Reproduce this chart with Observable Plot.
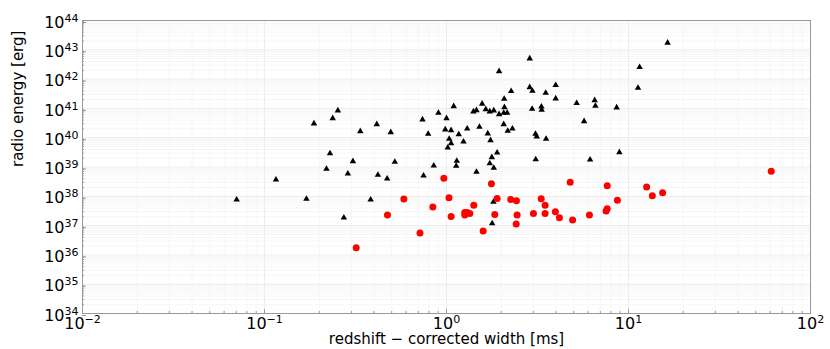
<!DOCTYPE html>
<html><head><meta charset="utf-8">
<script src="https://cdn.jsdelivr.net/npm/d3@7"></script>
<script src="https://cdn.jsdelivr.net/npm/@observablehq/plot@0.6"></script>
<style>html,body{margin:0;padding:0;background:#fff;} #chart svg{display:block;}</style>
</head><body><div id="chart"></div>
<script>
// black triangles
const triWidth = [0.0703,0.1156,0.170,0.187,0.219,0.229,0.237,0.253,0.273,0.287,0.306,0.336,0.383,0.414,0.420,0.472,0.494,0.520,
  0.738,0.793,0.748,0.851,0.903,1.00,0.984,1.06,1.035,1.06,1.016,1.096,1.168,1.240,1.139,1.13,1.299,1.406,1.461,1.517,1.461,1.570,
  1.644,1.686,1.745,1.729,1.819,1.774,1.729,1.819,1.898,1.811,1.782,1.946,1.946,2.074,2.081,2.063,2.154,2.063,2.170,2.302,2.266,
  2.866,2.866,2.966,2.954,3.082,3.131,3.092,3.322,3.334,3.508,3.526,3.98,3.98,5.19,5.70,6.15,6.52,6.58,8.61,8.91,11.28,11.51,16.40];
const triEnergy = [7.66e37,3.70e38,8.09e37,3.03e40,8.57e38,2.92e39,4.59e40,8.41e40,1.86e37,5.93e38,1.56e39,1.65e40,7.66e37,2.86e40,5.35e38,4.00e38,1.53e40,1.49e39,
  4.15e40,1.35e40,5.07e38,1.11e39,7.03e40,4.59e40,1.89e40,1.79e40,9.08e39,6.43e39,4.58e39,1.18e41,1.30e40,7.35e39,1.61e39,1.09e39,2.04e40,7.78e40,8.61e40,2.33e40,6.78e38,1.43e41,
  9.33e40,1.38e40,8.13e39,7.78e40,8.41e40,2.14e39,1.33e39,9.29e38,3.09e39,6.40e37,1.19e37,1.85e42,6.29e40,2.11e41,1.09e41,7.03e40,7.03e40,2.86e40,1.71e40,2.04e40,3.85e41,
  5.03e42,5.26e41,3.96e41,9.62e40,1.35e40,1.09e40,1.82e39,1.15e41,8.89e40,3.39e41,9.08e39,6.17e41,2.16e41,1.50e41,3.63e40,1.78e39,1.89e41,1.22e41,1.07e41,3.17e39,5.02e41,2.54e42,1.73e43];
// red circles
const circWidth = [0.319,0.474,0.583,0.715,0.841,0.967,1.032,1.06,1.260,1.260,1.299,1.343,1.412,1.590,1.766,1.898,1.842,2.254,2.423,2.444,2.415,
  3.004,3.314,3.482,3.482,3.966,4.173,4.783,4.930,6.10,7.53,7.64,7.64,8.69,12.58,13.52,15.40,60.85];
const circEnergy = [1.76e36,2.30e37,8.09e37,5.58e36,4.32e37,4.16e38,8.97e37,2.06e37,2.82e37,2.30e37,2.82e37,2.61e37,4.98e37,6.59e36,2.70e38,8.49e37,2.37e37,7.85e37,7.08e37,2.30e37,1.13e37,
  2.61e37,8.17e37,4.98e37,2.61e37,2.98e37,1.86e37,2.99e38,1.55e37,2.30e37,3.18e37,3.78e37,2.31e38,7.26e37,2.08e38,1.05e38,1.33e38,7.10e38];

const xTicks = [1e-2,1e-1,1,1e1,1e2];
const xTickLabels = ["10^\u22122","10^\u22121","10^0","10^1","10^2"];
const yTicks = [1e34,1e35,1e36,1e37,1e38,1e39,1e40,1e41,1e42,1e43,1e44];
const yTickLabels = ["10^34","10^35","10^36","10^37","10^38","10^39","10^40","10^41","10^42","10^43","10^44"];
const xLabel = "redshift \u2212 corrected width [ms]";
const yLabel = "radio energy [erg]";

const minorOf = majors => majors.slice(0, -1).flatMap(m => [2,3,4,5,6,7,8,9].map(k => k * m));
const xMinor = minorOf(xTicks), yMinor = minorOf(yTicks);

const tri = triWidth.map((w, i) => ({w, e: triEnergy[i]}));
const circ = circWidth.map((w, i) => ({w, e: circEnergy[i]}));

const fmt = (ticks, labels) => v => {
  const i = ticks.findIndex(t => Math.abs(Math.log10(t) - Math.log10(v)) < 1e-6);
  return i >= 0 ? labels[i] : "";
};

const chart = Plot.plot({
  width: 830, height: 349,
  marginLeft: 82, marginRight: 20, marginTop: 20, marginBottom: 36,
  style: {fontFamily: "DejaVu Sans", background: "#fff", color: "#000"},
  x: {type: "log", domain: [1e-2, 1e2]},
  y: {type: "log", domain: [1e34, 1e44]},
  marks: [
    Plot.gridX({ticks: xMinor, stroke: "#f6f6f6", strokeOpacity: 1}),
    Plot.gridY({ticks: yMinor, stroke: "#f6f6f6", strokeOpacity: 1}),
    Plot.gridX({ticks: xTicks, stroke: "#ededed", strokeOpacity: 1}),
    Plot.gridY({ticks: yTicks, stroke: "#ededed", strokeOpacity: 1}),
    Plot.axisX({ticks: xMinor, tickSize: -2, tickFormat: () => "", stroke: "#999", label: null}),
    Plot.axisY({ticks: yMinor, tickSize: -2, tickFormat: () => "", stroke: "#999", label: null}),
    Plot.axisX({ticks: xTicks, tickSize: -4, tickPadding: 8, tickFormat: fmt(xTicks, xTickLabels), stroke: "#999", fontSize: 16, label: null}),
    Plot.axisY({ticks: yTicks, tickSize: -4, tickPadding: 8, tickFormat: fmt(yTicks, yTickLabels), stroke: "#999", fontSize: 16, dy: 2, label: null}),
    Plot.dot(tri, {x: "w", y: "e", symbol: "triangle", r: 2.4, fill: "black", stroke: null}),
    Plot.dot(circ, {x: "w", y: "e", symbol: "circle", r: 3.5, fill: "red", stroke: null}),
    Plot.frame({stroke: "#999"}),
    Plot.text([xLabel], {frameAnchor: "bottom", dy: 30, fontSize: 15}),
    Plot.text([yLabel], {frameAnchor: "left", rotate: -90, dx: -64, fontSize: 15})
  ]
});

chart.querySelectorAll('g[aria-label$="tick label"] text').forEach(t => {
  const m = t.textContent.match(/^10\^(.+)$/);
  if (!m) return;
  t.textContent = "10";
  const ts = document.createElementNS("http://www.w3.org/2000/svg", "tspan");
  ts.setAttribute("dy", "-6");
  ts.setAttribute("font-size", "11");
  ts.textContent = m[1];
  t.appendChild(ts);
});

document.getElementById("chart").appendChild(chart);
</script>
</body></html>
